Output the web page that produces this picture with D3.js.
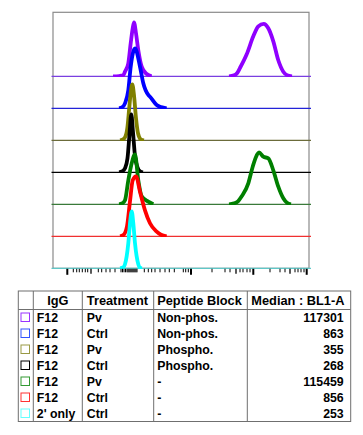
<!DOCTYPE html>
<html><head><meta charset="utf-8">
<script src="https://cdn.jsdelivr.net/npm/d3@7"></script>
<style>
html,body{margin:0;padding:0;background:#fff;}
svg{display:block;}
text{font-family:"Liberation Sans",Arial,sans-serif;font-weight:bold;fill:#000;}
</style></head><body>
<svg id="chart" width="363" height="435"></svg>
<script>
// ---- data (x in display channels 0..256, y in relative count 0..100) ----
const laneNames = ["F12 Pv Non-phos.","F12 Ctrl Non-phos.","F12 Pv Phospho.","F12 Ctrl Phospho.","F12 Pv -","F12 Ctrl -","2' only Ctrl -"];
const curveColors = ["#8f00ff","#0000ff","#808000","#000000","#007f00","#ff0000","#00ffff"];
const baseColors  = ["#7a3fe0","#2323d8","#6b6b3a","#000000","#3a7a3a","#f03030","#5fc8c8"];
const swatchColors= ["#9933ff","#3355ff","#999944","#000000","#339933","#ff3333","#66ffff"];

const purple = [[[60,0],[66,0.4],[70,1.5],[72,7.7],[75.3,21.7],[77.7,55],[79.7,80],[81,90],[83,71.7],[85.3,43.3],[88.7,16],[93.7,3.8],[98.7,0]],
                [[176,0],[181,1.5],[184,5],[187,14],[193.7,36.7],[200.3,66.7],[205.3,83.3],[210.7,87.5],[215.3,80],[220.3,58.3],[225.3,26.7],[230.3,7.7],[234,2],[239,0]]];
const blue   = [[[66,0],[69,1.5],[72,8.3],[75.3,30],[77.7,69.3],[82,100],[87,69.3],[90.3,41.7],[95.3,22.2],[97,19.3],[103.7,5.5],[108,2],[113.7,0]]];
const olive  = [[[67,0],[69.5,1.2],[72,5],[74.3,20],[76.3,55],[78,83.3],[79.3,93.3],[81,75],[83,36.7],[85,11.7],[87.7,1.7],[91,0]]];
const black  = [[[66,0],[69,1.2],[72,6.7],[74.5,23.3],[76.5,63.3],[78.3,96.7],[80,66.7],[82,26.7],[84.5,8.3],[87,1.7],[90,0]]];
const green  = [[[66,0],[69,1.2],[72,6.7],[75.3,40],[78.7,68.3],[82,83.3],[85.3,40],[88.7,13.3],[95.3,4.3],[100.3,0]],
                [[176,0],[181,1.5],[185,5],[188.7,13.3],[195.3,35],[199.7,62.7],[203.7,81.7],[206,86.7],[210.3,79.3],[215.3,76.7],[220.3,56.7],[225.3,29.3],[230.3,10],[234,2.5],[238,0]]];
const red    = [[[67,0],[70.3,2],[74,16.7],[77,58.3],[79.7,93.3],[83,100],[87,74.3],[92,43.3],[97,21.7],[103.7,7.7],[108,2.5],[113.7,0]]];
const cyan   = [[[67,0],[70,1.2],[72,6.7],[75.3,41.7],[77,75],[78.7,95],[80.3,75],[82,41.7],[85.3,6.7],[87,1],[89,0]]];
const lanes = [purple, blue, olive, black, green, red, cyan];

// axis ticks (display channels)
const majorTicks = [14.3, 138, 200.3, 253.7];
const midTicks   = [38, 183, 237];
const minorTicks = [20.3,23.7,26.3,29.3,32.3,34.7,45.3,48.7,53,57,62,68,69.5,71,72.5,74,75,76,77,78,79,80,81,82,83,84,91.3,95.3,98.7,102,107,112,116.3,121.3,130.3,132.7,135.3,159,172,177,187,190,194,197,217,227,232,242,245,248,251];

// table
const tableHeader = ["", "IgG", "Treatment", "Peptide Block", "Median : BL1-A"];
const igG        = ["F12","F12","F12","F12","F12","F12","2' only"];
const treatment  = ["Pv","Ctrl","Pv","Ctrl","Pv","Ctrl","Ctrl"];
const peptide    = ["Non-phos.","Non-phos.","Phospho.","Phospho.","-","-","-"];
const medians    = ["117301","863","355","268","115459","856","253"];

// ---- drawing ----
const svg = d3.select("#chart");
const defs = svg.append("defs");
const L = 53, R = 309, T = 12.3, B = 268.3;
const x = d3.scaleLinear().domain([0,256]).range([L,R]);
const laneY = d3.scaleLinear().domain([0,6]).range([T + 64, B]); // baseline of lane i
const h = d3.scaleLinear().domain([0,100]).range([0,60]);

// frame
svg.append("rect").attr("x",L).attr("y",T).attr("width",R-L).attr("height",B-T)
  .attr("fill","none").attr("stroke","#8a8a8a").attr("stroke-width",1.2);

lanes.forEach((segs,i)=>{
  const b = laneY(i);
  defs.append("clipPath").attr("id","clip"+i).append("rect")
    .attr("x",0).attr("y",0).attr("width",363).attr("height",b+0.6);
  svg.append("line").attr("x1",L-1.5).attr("x2",R+2).attr("y1",b).attr("y2",b)
    .attr("stroke",baseColors[i]).attr("stroke-width",1.3);
  const line = d3.line().x(d=>x(d[0])).y(d=>b - h(d[1])).curve(d3.curveMonotoneX);
  const g = svg.append("g").attr("clip-path","url(#clip"+i+")");
  segs.forEach(seg=>{
    g.append("path").attr("d",line(seg)).attr("fill","none")
      .attr("stroke",curveColors[i]).attr("stroke-width",3.8)
      .attr("stroke-linejoin","round").attr("stroke-linecap","butt");
  });
});

// ticks
const tg = svg.append("g");
minorTicks.forEach(t=>tg.append("line").attr("x1",x(t)).attr("x2",x(t)).attr("y1",B+0.5).attr("y2",B+4).attr("stroke","#000").attr("stroke-width",1));
midTicks.forEach(t=>tg.append("line").attr("x1",x(t)).attr("x2",x(t)).attr("y1",B+0.5).attr("y2",B+5.5).attr("stroke","#000").attr("stroke-width",1.3));
majorTicks.forEach(t=>tg.append("line").attr("x1",x(t)).attr("x2",x(t)).attr("y1",B+0.5).attr("y2",B+6.5).attr("stroke","#000").attr("stroke-width",2));

// table
const colX = [18.3, 33.3, 82.3, 153.7, 247.3, 350.7];
const tTop = 291, headH = 18.5, rowH = 16;
const tBottom = tTop + headH + rowH*7;
const tb = svg.append("g");
tb.append("rect").attr("x",colX[0]).attr("y",tTop).attr("width",colX[5]-colX[0]).attr("height",tBottom-tTop)
  .attr("fill","none").attr("stroke","#6f6f6f").attr("stroke-width",1);
colX.slice(1,5).forEach(cx=>tb.append("line").attr("x1",cx).attr("x2",cx).attr("y1",tTop).attr("y2",tBottom).attr("stroke","#6f6f6f").attr("stroke-width",1));
tb.append("line").attr("x1",colX[0]).attr("x2",colX[5]).attr("y1",tTop+headH).attr("y2",tTop+headH).attr("stroke","#6f6f6f").attr("stroke-width",1);

const hy = tTop + headH/2 + 4.5;
tb.append("text").attr("x",(colX[1]+colX[2])/2).attr("y",hy).attr("text-anchor","middle").attr("font-size",12.8).text(tableHeader[1]);
tb.append("text").attr("x",colX[2]+4.5).attr("y",hy).attr("font-size",12.8).text(tableHeader[2]);
tb.append("text").attr("x",colX[3]+3.5).attr("y",hy).attr("font-size",12.8).text(tableHeader[3]);
tb.append("text").attr("x",colX[4]+4).attr("y",hy).attr("font-size",12.8).text(tableHeader[4]);

igG.forEach((g,i)=>{
  const cy = tTop + headH + rowH*i + rowH/2;
  tb.append("rect").attr("x",21).attr("y",cy-4.5).attr("width",8.5).attr("height",8.5)
    .attr("fill","none").attr("stroke",swatchColors[i]).attr("stroke-width",1);
  const ty = cy + 4.4;
  tb.append("text").attr("x",colX[1]+3.5).attr("y",ty).attr("font-size",12.3).text(g);
  tb.append("text").attr("x",colX[2]+4.5).attr("y",ty).attr("font-size",12.3).text(treatment[i]);
  tb.append("text").attr("x",colX[3]+3.5).attr("y",ty).attr("font-size",12.3).text(peptide[i]);
  tb.append("text").attr("x",colX[5]-7).attr("y",ty).attr("text-anchor","end").attr("font-size",12.3).text(medians[i]);
});
</script>
</body></html>
